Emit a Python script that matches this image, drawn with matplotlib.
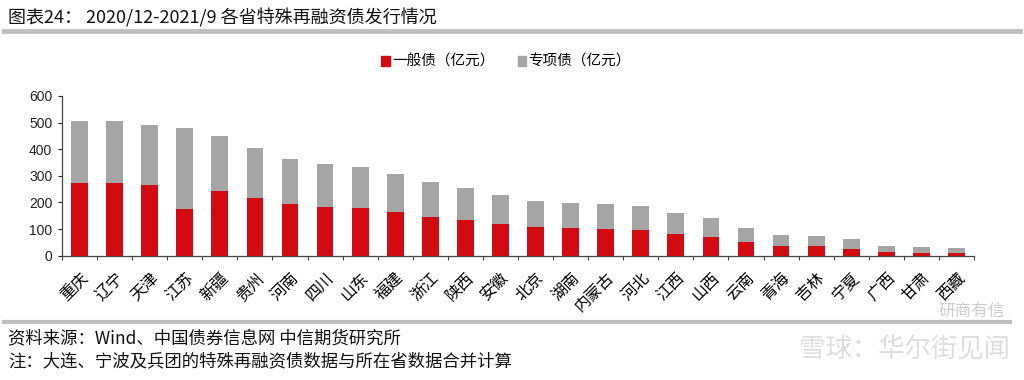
import matplotlib
matplotlib.use('Agg')
import matplotlib.pyplot as plt
from matplotlib.lines import Line2D
from matplotlib.patches import Patch

plt.rcParams['font.family'] = ['Noto Sans CJK SC', 'DejaVu Sans']

provinces = ['重庆', '辽宁', '天津', '江苏', '新疆', '贵州', '河南', '四川', '山东', '福建',
             '浙江', '陕西', '安徽', '北京', '湖南', '内蒙古', '河北', '江西', '山西', '云南',
             '青海', '吉林', '宁夏', '广西', '甘肃', '西藏']
total = [505, 505, 492, 478, 450, 403, 364, 345, 333, 306,
         277, 254, 228, 206, 199, 194, 186, 161, 140, 104,
         78, 75, 61, 37, 31, 30]
general = [273, 272, 264, 175, 243, 218, 195, 184, 179, 164,
           147, 134, 119, 108, 104, 100, 96, 81, 70, 50,
           36, 35, 26, 15, 11, 10]
special = [t - g for t, g in zip(total, general)]

red = '#d20a11'
grey = '#a5a5a5'

fig = plt.figure(figsize=(10.24, 3.8), dpi=100)
ax = fig.add_axes([62 / 1024, 1 - 255.7 / 380, 912 / 1024, 159.7 / 380])

x = range(len(provinces))
ax.bar(x, general, width=0.48, color=red, label='一般债（亿元）')
ax.bar(x, special, width=0.48, bottom=general, color=grey, label='专项债（亿元）')

ax.set_xlim(-0.5, len(provinces) - 0.5)
ax.set_ylim(0, 600)
ax.set_yticks(range(0, 601, 100))
ax.tick_params(axis='y', direction='out', length=3, width=0.8, labelsize=10, pad=4, colors='#222222')
for lab in ax.get_yticklabels():
    lab.set_family(['Liberation Sans', 'DejaVu Sans'])

# x ticks sit between the bars, labels at the bar centres
ax.set_xticks([i - 0.5 for i in range(len(provinces) + 1)])
ax.set_xticklabels([])
ax.set_xticks(list(x), minor=True)
ax.set_xticklabels(provinces, minor=True, rotation=45, ha='right', va='top',
                   rotation_mode='anchor', fontsize=11.5)
ax.tick_params(axis='x', which='major', direction='out', length=3, width=0.8, colors='#444444')
ax.tick_params(axis='x', which='minor', length=0, pad=10)

for side in ['top', 'right']:
    ax.spines[side].set_visible(False)
for side in ['left', 'bottom']:
    ax.spines[side].set_color('#444444')
    ax.spines[side].set_linewidth(0.9)

handles = [Patch(color=red), Patch(color=grey)]
fig.legend(handles, ['一般债（亿元）', '专项债（亿元）'], loc='center',
           bbox_to_anchor=(506 / 1024, 1 - 62 / 380), ncol=2, frameon=False,
           fontsize=10.5, handlelength=0.6, handleheight=0.6, handletextpad=0.15,
           columnspacing=1.6)

# title and separator lines
fig.text(8 / 1024, 1 - 18 / 380, '图表24： 2020/12-2021/9 各省特殊再融资债发行情况',
         fontsize=13, va='center', ha='left', color='#111111')
fig.add_artist(Line2D([4 / 1024, 1020 / 1024], [1 - 31 / 380, 1 - 31 / 380],
                      color='#bfbfbf', linewidth=3.5))
fig.add_artist(Line2D([4 / 1024, 1010 / 1024], [1 - 322 / 380, 1 - 322 / 380],
                      color='#bfbfbf', linewidth=3))

fig.text(8 / 1024, 1 - 338 / 380, '资料来源：Wind、中国债券信息网 中信期货研究所',
         fontsize=12.5, va='center', ha='left', color='#111111')
fig.text(8 / 1024, 1 - 361 / 380, '注：大连、宁波及兵团的特殊再融资债数据与所在省数据合并计算',
         fontsize=12.5, va='center', ha='left', color='#111111')

# watermark
fig.text(1010 / 1024, 1 - 350 / 380, '雪球：华尔街见闻', fontsize=19, va='center', ha='right',
         color='#dddddd')
fig.text(1005 / 1024, 1 - 311 / 380, '研商有信', fontsize=12, va='center', ha='right',
         color='#cccccc')

fig.savefig('out.png', dpi=100)
